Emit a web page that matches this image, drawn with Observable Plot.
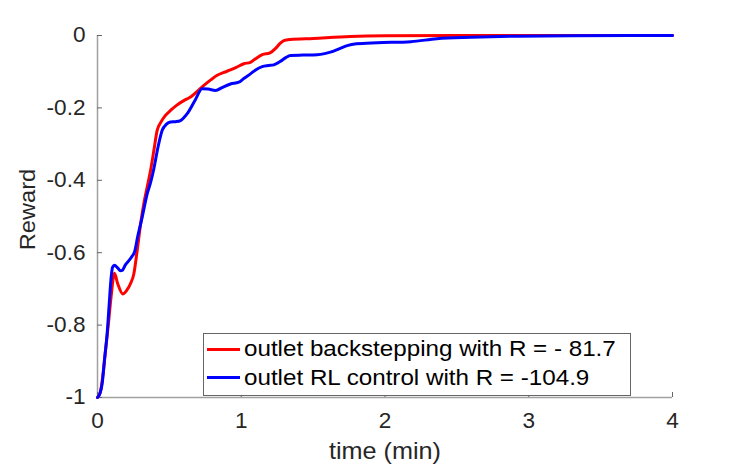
<!DOCTYPE html>
<html>
<head>
<meta charset="utf-8">
<script src="https://cdn.jsdelivr.net/npm/d3@7"></script>
<script src="https://cdn.jsdelivr.net/npm/@observablehq/plot@0.6"></script>
<style>
  body { margin: 0; background: #fff; }
  #wrap { position: relative; width: 747px; height: 467px; font-family: "Liberation Sans", Arial, sans-serif; }
  #legend { position: absolute; left: 203px; top: 333px; width: 426px; height: 61px; border: 1px solid #666; background: #fff; box-sizing: content-box; }
  .item { position: absolute; left: 0; height: 0; }
  .swatch { position: absolute; left: 3px; width: 33px; height: 3px; top: -1.5px; }
  .lab { position: absolute; left: 40px; top: -13px; font-size: 22.5px; line-height: 26px; color: #000; white-space: nowrap; transform: scaleX(1.075); transform-origin: 0 50%; }
</style>
</head>
<body>
<div id="wrap"></div>
<script>
// ---- data ----
const redTime = [0, 0.02, 0.04, 0.056, 0.075, 0.095, 0.118, 0.14, 0.176, 0.205, 0.23, 0.253, 0.276, 0.30, 0.322, 0.345, 0.369, 0.392, 0.415, 0.44, 0.47, 0.508, 0.55, 0.60, 0.647, 0.70, 0.74, 0.79, 0.833, 0.88, 0.925, 0.97, 1.018, 1.064, 1.10, 1.146, 1.2, 1.24, 1.27, 1.296, 1.34, 1.5, 1.76, 2.0, 2.5, 3.0, 4.0];
const redReward = [-1, -0.985, -0.93, -0.87, -0.80, -0.72, -0.657, -0.685, -0.714, -0.703, -0.685, -0.658, -0.594, -0.52, -0.465, -0.42, -0.373, -0.318, -0.262, -0.24, -0.222, -0.207, -0.193, -0.18, -0.170, -0.152, -0.138, -0.122, -0.11, -0.102, -0.095, -0.087, -0.078, -0.074, -0.064, -0.053, -0.048, -0.035, -0.022, -0.014, -0.011, -0.008, -0.003, -0.001, 0, 0, 0];
const blueTime = [0, 0.02, 0.033, 0.05, 0.067, 0.08, 0.095, 0.105, 0.118, 0.14, 0.16, 0.172, 0.195, 0.218, 0.24, 0.257, 0.28, 0.311, 0.346, 0.37, 0.392, 0.42, 0.45, 0.48, 0.508, 0.545, 0.577, 0.624, 0.68, 0.728, 0.77, 0.821, 0.87, 0.925, 0.983, 1.02, 1.064, 1.10, 1.146, 1.19, 1.226, 1.27, 1.31, 1.343, 1.43, 1.528, 1.58, 1.62, 1.68, 1.737, 1.8, 1.946, 2.18, 2.36, 2.6, 2.92, 3.3, 4.0];
const blueReward = [-1, -0.985, -0.96, -0.89, -0.824, -0.75, -0.668, -0.64, -0.635, -0.642, -0.65, -0.649, -0.633, -0.622, -0.61, -0.599, -0.555, -0.502, -0.437, -0.405, -0.368, -0.31, -0.262, -0.245, -0.239, -0.238, -0.235, -0.216, -0.178, -0.147, -0.148, -0.152, -0.143, -0.134, -0.129, -0.118, -0.106, -0.095, -0.086, -0.083, -0.081, -0.072, -0.061, -0.055, -0.054, -0.053, -0.05, -0.046, -0.037, -0.028, -0.023, -0.020, -0.017, -0.009, -0.005, -0.002, -0.001, 0];
const seriesNames = ["outlet backstepping with R = - 81.7", "outlet RL control with R = -104.9"];
const seriesColors = ["#ff0000", "#0000ff"];
const xTicks = [0, 1, 2, 3, 4];
const yTicks = [-1, -0.8, -0.6, -0.4, -0.2, 0];
const xLabel = "time (min)";
const yLabel = "Reward";

const redRows = redTime.map((t, i) => ({t, r: redReward[i]}));
const blueRows = blueTime.map((t, i) => ({t, r: blueReward[i]}));

const chart = Plot.plot({
  width: 747, height: 467,
  marginLeft: 97, marginRight: 75, marginTop: 35, marginBottom: 70,
  style: {fontFamily: '"Liberation Sans", Arial, sans-serif', fontSize: "21.5px", color: "#262626", background: "#fff", overflow: "visible"},
  x: {domain: [0, 4]},
  y: {domain: [-1, 0]},
  marks: [
    Plot.ruleX([0], {stroke: "#a0a0a0", strokeWidth: 1.5}),
    Plot.ruleY([-1], {stroke: "#a0a0a0", strokeWidth: 1.5}),
    Plot.axisX({ticks: xTicks, tickSize: -5, tickPadding: 20, stroke: "#666", fontSize: 21.5, tickFormat: d => String(d), label: null}),
    Plot.axisY({ticks: yTicks, tickSize: -5, tickPadding: 17, stroke: "#666", fontSize: 21.5, tickFormat: d => String(d), label: null}),
    Plot.text([xLabel], {frameAnchor: "bottom", lineAnchor: "bottom", dy: 61, fontSize: 24, fill: "#262626", ariaLabel: "xlabel"}),
    Plot.text([yLabel], {frameAnchor: "left", textAnchor: "middle", lineAnchor: "top", rotate: -90, dx: -78, dy: -7, fontSize: 22.5, fill: "#262626", ariaLabel: "ylabel"}),
    Plot.line(redRows, {x: "t", y: "r", stroke: seriesColors[0], strokeWidth: 3, curve: "monotone-x"}),
    Plot.line(blueRows, {x: "t", y: "r", stroke: seriesColors[1], strokeWidth: 3, curve: "monotone-x"})
  ]
});

const wrap = document.getElementById("wrap");
wrap.appendChild(chart);

// slight horizontal stretch of horizontal texts (original figure was scaled non-uniformly)
d3.select(chart).selectAll("text").each(function() {
  const g = this.closest("g[aria-label]");
  const kind = g ? g.getAttribute("aria-label") : "";
  if (kind === "ylabel") return;
  const k = kind === "xlabel" ? 1.16 : 1.05;
  const w = this.getComputedTextLength();
  this.setAttribute("textLength", (w * k).toFixed(2));
  this.setAttribute("lengthAdjust", "spacingAndGlyphs");
});

// legend
const legend = document.createElement("div");
legend.id = "legend";
const rowY = [15, 43.5];
seriesNames.forEach((name, i) => {
  const item = document.createElement("div");
  item.className = "item";
  item.style.top = rowY[i] + "px";
  const sw = document.createElement("div");
  sw.className = "swatch";
  sw.style.background = seriesColors[i];
  const lab = document.createElement("div");
  lab.className = "lab";
  lab.textContent = name;
  item.appendChild(sw);
  item.appendChild(lab);
  legend.appendChild(item);
});
wrap.appendChild(legend);
</script>
</body>
</html>
